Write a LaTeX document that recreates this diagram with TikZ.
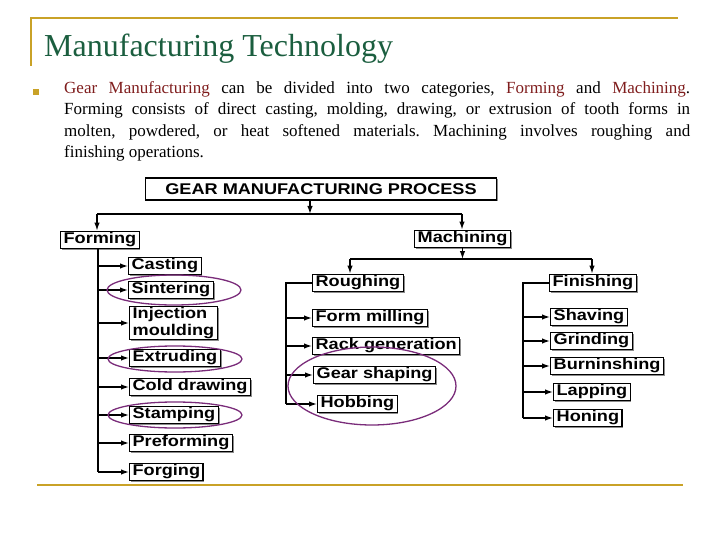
\documentclass[tikz,border=0pt]{standalone}
\usepackage{fontspec}
\setmainfont{Liberation Serif}
\newfontfamily\diafont[FakeStretch=1.17]{Liberation Sans}
\usetikzlibrary{arrows.meta,positioning,shadows}
\definecolor{gold}{HTML}{C9A227}
\definecolor{titlegreen}{HTML}{1B5E3F}
\definecolor{keyred}{HTML}{7F1D1D}
\definecolor{ringpurple}{HTML}{7A2C7A}
\frenchspacing

\tikzset{
  stage/.style={draw,fill=white,line width=1.3pt,inner xsep=3pt,inner ysep=1.5pt,
    anchor=west,font=\diafont\bfseries\fontsize{15.5}{16}\selectfont,
    drop shadow={shadow xshift=1.3pt,shadow yshift=-1.3pt,fill=black!45,opacity=1}},
  feed/.style={-{Latex[length=8pt,width=5.5pt]},line width=1.3pt},
  link/.style={line width=1.3pt},
  ring/.style={draw=ringpurple,line width=1.3pt}
}

\begin{document}
\begin{tikzpicture}[x=1pt,y=-1pt]
\useasboundingbox (0,0) rectangle (720,540);

% slide frame
\draw[gold,line width=2.5pt] (31,66) -- (31,18) -- (678,18);
\draw[gold,line width=2.5pt] (37,485) -- (683,485);
\node[anchor=base west,inner sep=0,text=titlegreen,font=\fontsize{32}{32}\selectfont] (title) at (44,57) {Manufacturing Technology};

% bullet text
\node[fill=gold,minimum size=6pt,inner sep=0] (bullet) at (36,92) {};
\node[anchor=north west,inner sep=0,text width=626pt,align=justify,font=\fontsize{17}{21.5}\selectfont] (intro) at (64,81)
  {\textcolor{keyred}{Gear Manufacturing} can be divided into two categories, \textcolor{keyred}{Forming} and \textcolor{keyred}{Machining}.\linebreak
   Forming consists of direct casting, molding, drawing, or extrusion of tooth forms in\linebreak
   molten, powdered, or heat softened materials. Machining involves roughing and\linebreak
   finishing operations.};

% main boxes
\node[stage,anchor=center,minimum width=351pt,minimum height=22pt] (gmp) at (321,189) {GEAR MANUFACTURING PROCESS};
\node[stage] (forming) at (60,240) {Forming};
\node[stage] (machining) at (414,239) {Machining};

% forming branch
\node[stage] (casting) at (128,266) {Casting};
\node[stage] (sintering) at (128,290) {Sintering};
\node[stage,align=left,inner ysep=1pt] (injection) at (129,323) {Injection\\[0.5pt]moulding};
\node[stage] (extruding) at (129,358) {Extruding};
\node[stage] (colddrawing) at (129,387) {Cold drawing};
\node[stage] (stamping) at (129,415) {Stamping};
\node[stage] (preforming) at (129,443) {Preforming};
\node[stage] (forging) at (129,472) {Forging};

% machining branch
\node[stage] (roughing) at (312,283) {Roughing};
\node[stage] (formmilling) at (312,318) {Form milling};
\node[stage] (rackgen) at (312,346) {Rack generation};
\node[stage] (gearshaping) at (313,375) {Gear shaping};
\node[stage] (hobbing) at (317,404) {Hobbing};

\node[stage] (finishing) at (549,283) {Finishing};
\node[stage] (shaving) at (550,317) {Shaving};
\node[stage] (grinding) at (550,341) {Grinding};
\node[stage] (burnishing) at (550,366) {Burninshing};
\node[stage] (lapping) at (553,392) {Lapping};
\node[stage] (honing) at (553,418) {Honing};

% buses and trunks
\coordinate (busL) at (97,214);
\coordinate (busR) at (462,214);
\coordinate (busM) at (310,214);
\coordinate (rbus) at (350,259);
\coordinate (kbus) at (592,259);
\coordinate (ftrunk) at (98,0);
\coordinate (rtrunk) at (286,0);
\coordinate (ktrunk) at (523,0);

\draw[feed] (busM |- gmp.south) -- (busM);
\draw[link] (busL) -- (busR);
\draw[feed] (busL) -- (busL |- forming.north);
\draw[feed] (busR) -- (busR |- machining.north);

\draw[link] (ftrunk |- forming.south) -- (ftrunk |- forging);
\foreach \n in {casting,sintering,injection,extruding,colddrawing,stamping,preforming,forging}
  \draw[feed] (ftrunk |- \n) -- (\n.west);

\draw[feed] (machining.south) -- (machining.south |- rbus);
\draw[link] (rbus) -- (kbus);
\draw[feed] (rbus) -- (rbus |- roughing.north);
\draw[feed] (kbus) -- (kbus |- finishing.north);

\draw[link] (roughing.west) -- (rtrunk |- roughing) -- (rtrunk |- hobbing);
\foreach \n in {formmilling,rackgen,gearshaping,hobbing}
  \draw[feed] (rtrunk |- \n) -- (\n.west);

\draw[link] (finishing.west) -- (ktrunk |- finishing) -- (ktrunk |- honing);
\foreach \n in {shaving,grinding,burnishing,lapping,honing}
  \draw[feed] (ktrunk |- \n) -- (\n.west);

% highlighted processes
\draw[ring] (174,290) ellipse (67 and 15);
\draw[ring] (175,359) ellipse (67 and 13);
\draw[ring] (175,415) ellipse (67 and 13);
\draw[ring] (372,386) ellipse (84 and 39);
\end{tikzpicture}
\end{document}
